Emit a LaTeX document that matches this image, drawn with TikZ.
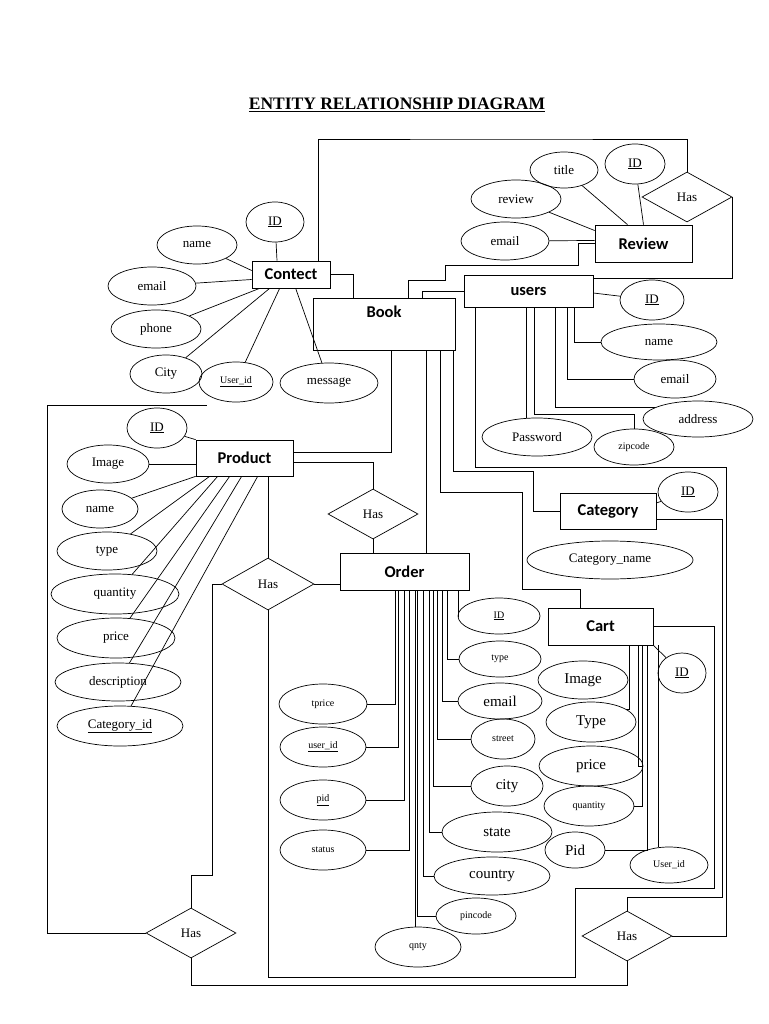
\documentclass[tikz,border=0pt]{standalone}
\usepackage{fontspec}
\setmainfont{Liberation Serif}
\newfontfamily\entfont{Carlito}
\usetikzlibrary{positioning, shapes.geometric}

\tikzset{
  attr/.style 2 args={ellipse, draw, inner sep=0, minimum width=#1, minimum height=#2, font=\fontsize{13}{15}\selectfont},
  entity/.style 2 args={rectangle, draw, inner sep=0, minimum width=#1, minimum height=#2, font=\entfont\bfseries\fontsize{16.5}{18}\selectfont},
  rel/.style={diamond, draw, inner sep=0, aspect=1.8, minimum width=90, minimum height=50, font=\fontsize{13}{15}\selectfont},
  small/.style={font=\fontsize{10}{12}\selectfont},
  big/.style={font=\fontsize{15}{17}\selectfont},
}

\begin{document}
\begin{tikzpicture}[x=1pt, y=-1pt, line width=0.7pt]
        \useasboundingbox (0,0) rectangle (768,1024);
        \node (title) at (397,105) {\bfseries\fontsize{17.5}{19}\selectfont\underline{ENTITY RELATIONSHIP DIAGRAM}};

        % entities
        \node[entity={78}{27}]   (contect)  at (291,274.5) {Contect};
        \node[entity={142}{52}, label={[entity={0}{0}, draw=none, anchor=north, yshift=-8]north:Book}] (book) at (384,324) {};
        \node[entity={129}{32}]  (users)    at (528.5,291) {users};
        \node[entity={97}{37}]   (review)   at (643.5,243.5) {Review};
        \node[entity={97}{36}]   (product)  at (244.5,458) {Product};
        \node[entity={96}{36}]   (category) at (608,511) {Category};
        \node[entity={129}{37}]  (order)    at (404.5,571.5) {Order};
        \node[entity={105}{37}]  (cart)     at (600.5,626.5) {Cart};

        % relationships
        \node[rel] (hasR) at (687,197) {Has};
        \node[rel] (hasO) at (373,514) {Has};
        \node[rel, minimum width=92, minimum height=52] (hasP) at (268,584) {Has};
        \node[rel] (hasL) at (191,933) {Has};
        \node[rel] (hasC) at (627,936) {Has};

        % Contect attributes
        \node[attr={58}{40}] (cID)    at (275,222) {\underline{ID}};
        \node[attr={80}{38}] (cName)  at (197,245) {name};
        \node[attr={88}{38}] (cEmail) at (152,286) {email};
        \node[attr={90}{38}] (cPhone) at (156,329) {phone};
        \node[attr={72}{38}] (cCity)  at (166,374) {City};
        \node[attr={74}{40}, small] (cUid) at (236,382) {\underline{User\_id}};
        \node[attr={98}{40}] (cMsg)   at (329,383) {message};

        % Review attributes
        \node[attr={68}{36}] (rTitle)  at (564,170) {title};
        \node[attr={60}{40}] (rID)     at (635,164) {\underline{ID}};
        \node[attr={90}{38}] (rReview) at (516,199) {review};
        \node[attr={88}{38}] (rEmail)  at (505,241) {email};

        % users attributes
        \node[attr={64}{40}]  (uID)   at (652,300) {\underline{ID}};
        \node[attr={116}{36}] (uName) at (659,342) {name};
        \node[attr={82}{38}]  (uEmail) at (675,379) {email};
        \node[attr={110}{36}] (uAddr) at (698,419) {address};
        \node[attr={110}{38}] (uPass) at (537,437) {Password};
        \node[attr={80}{36}, small] (uZip) at (634,447) {zipcode};

        % Product attributes
        \node[attr={60}{40}]  (pID)    at (157,428) {\underline{ID}};
        \node[attr={82}{38}]  (pImage) at (108,464) {Image};
        \node[attr={76}{38}]  (pName)  at (100,509) {name};
        \node[attr={100}{38}] (pType)  at (107,551) {type};
        \node[attr={128}{40}] (pQty)   at (115,594) {quantity};
        \node[attr={118}{40}] (pPrice) at (116,638) {price};
        \node[attr={126}{38}] (pDesc)  at (118,682) {description};
        \node[attr={126}{40}] (pCat)   at (120,726) {\underline{Category\_id}};

        % Category attributes
        \node[attr={60}{40}]  (kID)   at (688,492) {\underline{ID}};
        \node[attr={166}{38}] (kName) at (610,560) {Category\_name};

        % Order attributes
        \node[attr={82}{36}, small] (oID)     at (499,616) {\underline{ID}};
        \node[attr={82}{36}, small] (oType)   at (500,659) {type};
        \node[attr={84}{36}, big]   (oEmail)  at (500,701) {email};
        \node[attr={64}{40}, small] (oStreet) at (503,739) {street};
        \node[attr={72}{40}, big]   (oCity)   at (507,786) {city};
        \node[attr={110}{40}, big]  (oState)  at (497,832) {state};
        \node[attr={116}{38}, big]  (oCountry) at (492,876) {country};
        \node[attr={80}{36}, small] (oPin)    at (476,916) {pincode};
        \node[attr={86}{40}, small] (oQnty)   at (418,947) {qnty};
        \node[attr={88}{40}, small] (oTprice) at (323,704) {tprice};
        \node[attr={86}{40}, small] (oUid)    at (323,747) {\underline{user\_id}};
        \node[attr={86}{40}, small] (oPid)    at (323,800) {\underline{pid}};
        \node[attr={86}{40}, small] (oStatus) at (323,850) {status};

        % Cart attributes
        \node[attr={90}{38}, big]   (cImage) at (583,680) {Image};
        \node[attr={90}{40}, big]   (cType)  at (591,722) {Type};
        \node[attr={104}{40}, big]  (cPrice) at (591,766) {price};
        \node[attr={90}{40}, small] (cQty)   at (589,806) {quantity};
        \node[attr={60}{36}, big]   (cPid)   at (575,850) {Pid};
        \node[attr={78}{36}, small] (cUser)  at (669,865) {User\_id};
        \node[attr={48}{40}]        (cCID)   at (682,673) {\underline{ID}};

        % turning points
        \coordinate (rTop)  at (500,139);
        \coordinate (uTurn) at (726,467);
        \coordinate (kTurn) at (722,897);
        \coordinate (cTurn) at (714,888);
        \coordinate (cTurn2) at (575,977);
        \coordinate (bTurn) at (300,985);
        \coordinate (lTurn) at (47,405);
        \coordinate (lEnd)  at (207,405);

        % attribute links
        \draw (cID) -- ([xshift=-14]contect.north);
        \draw (cName) -- ([yshift=4]contect.west);
        \draw (cEmail) -- ([yshift=-5]contect.west);
        \draw (cPhone) -- ([xshift=8]contect.south west);
        \draw (cCity) -- ([xshift=18]contect.south west);
        \draw (cUid) -- ([xshift=28]contect.south west);
        \draw (cMsg) -- ([xshift=44]contect.south west);

        \draw (rTitle) -- ([xshift=-16]review.north);
        \draw (rID) -- (review.north);
        \draw (rReview) -- ([yshift=13]review.west);
        \draw (rEmail) -- ([yshift=3]review.west);

        \draw ([yshift=-2]users.east) -- (uID);
        \draw ([xshift=111]users.south west) |- (uName.west);
        \draw ([xshift=104]users.south west) |- (uEmail.west);
        \draw ([xshift=92]users.south west) |- (uAddr.165);
        \draw ([xshift=71]users.south west) -- ++(0,107) -| (uZip.north);
        \draw (uPass.120) -- (uPass.120 |- users.south);

        \draw (pID) -- (product.north west);
        \draw (pImage) -- ([yshift=-6]product.west);
        \draw (pName) -- (product.south west);
        \draw (pType) -- ([xshift=14]product.south west);
        \draw (pQty) -- ([xshift=22]product.south west);
        \draw (pPrice) -- ([xshift=34]product.south west);
        \draw (pDesc) -- ([xshift=46]product.south west);
        \draw (pCat) -- ([xshift=62]product.south west);

        \draw (kID) -- ([yshift=8]category.east);

        \draw ([xshift=119]order.south west) |- (oID.west);
        \draw ([xshift=108]order.south west) |- (oType.west);
        \draw ([xshift=103]order.south west) |- (oEmail.west);
        \draw ([xshift=98]order.south west) |- (oStreet.west);
        \draw ([xshift=94]order.south west) |- (oCity.west);
        \draw ([xshift=90]order.south west) |- (oState.west);
        \draw ([xshift=84]order.south west) |- (oCountry.west);
        \draw ([xshift=78]order.south west) |- (oPin.west);
        \draw (oQnty.97) -- (oQnty.97 |- order.south);
        \draw ([xshift=56]order.south west) |- (oTprice.east);
        \draw ([xshift=59]order.south west) |- (oUid.east);
        \draw ([xshift=65]order.south west) |- (oPid.east);
        \draw ([xshift=70]order.south west) |- (oStatus.east);

        \draw ([xshift=82]cart.south west) |- (cType.20);
        \draw ([xshift=91]cart.south west) |- (cPrice.east);
        \draw ([xshift=95]cart.south west) |- (cQty.east);
        \draw ([xshift=100]cart.south west) |- (cPid.east);
        \draw (cUser.120) -- (cUser.120 |- cart.south);
        \draw (cCID) -- (cart.south east);

        % relationship links
        \draw (contect.east) -| ([xshift=-31]book.north);
        \draw ([xshift=27]contect.north) |- (rTop) -| (hasR.north);
        \draw (hasR.east) |- ([yshift=13]users.east);
        \draw (review.west) -- ++(-16,0) -- ++(0,22) -| ++(-133,15) -| ([xshift=24]book.north);
        \draw (users.west) -| ([xshift=38]book.north);
        \draw ([xshift=42]book.south) -- ([xshift=42]book.south |- order.north);
        \draw ([xshift=56]book.south) -- ++(0,142) -| ++(82,97) -| ([xshift=-20]cart.north);
        \draw ([xshift=69]book.south) |- ++(80,121) |- (category.west);
        \draw ([yshift=6]product.east) -| ([xshift=7]book.south);
        \draw ([yshift=-4]product.east) -| (hasO.north);
        \draw (hasO.south) -- (hasO.south |- order.north);
        \draw (product.south -| hasP.north) -- (hasP.north);
        \draw (hasP.east) -- (hasP.east -| order.west);
        \draw ([yshift=-8]category.east) -| (kTurn) -| (hasC.north);
        \draw ([xshift=12]users.south west) |- (uTurn) |- (hasC.east);
        \draw (cart.east) -| (cTurn) -| (cTurn2) -| (hasP.south);
        \draw (hasC.south) |- (bTurn) -| (hasL.south);
        \draw (hasL.west) -| (lTurn) -- (lEnd);
        \draw (hasL.north) |- ++(21,-32) |- (hasP.west);
\end{tikzpicture}
\end{document}
